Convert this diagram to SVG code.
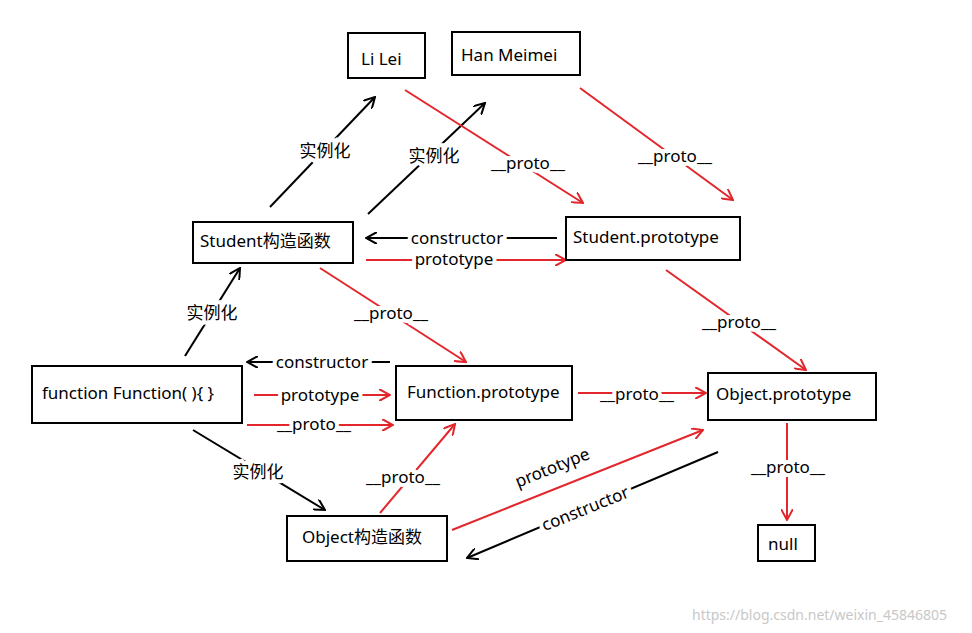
<svg xmlns="http://www.w3.org/2000/svg" width="972" height="633" viewBox="0 0 972 633">
<style>
.n{fill:#fff;stroke:#000;stroke-width:2}
text{font-family:"Noto Sans","Noto Sans CJK SC",sans-serif;font-size:17px;fill:#000}
.t{text-anchor:start}
.l{text-anchor:middle;dominant-baseline:central;paint-order:stroke;stroke:#fff;stroke-width:8px}
.r{stroke:#e3262b;stroke-width:2;fill:none;marker-end:url(#ar)}
.b{stroke:#000;stroke-width:2;fill:none;marker-end:url(#ab)}
</style>
<defs>
<marker id="ar" viewBox="0 0 12 12" refX="11" refY="6" markerWidth="12" markerHeight="12" markerUnits="userSpaceOnUse" orient="auto"><path d="M0,0 L11,6 L0,12" fill="none" stroke="#e3262b" stroke-width="2"/></marker>
<marker id="ab" viewBox="0 0 12 12" refX="11" refY="6" markerWidth="12" markerHeight="12" markerUnits="userSpaceOnUse" orient="auto"><path d="M0,0 L11,6 L0,12" fill="none" stroke="#000" stroke-width="2"/></marker>
</defs>
<rect width="972" height="633" fill="#fff"/>
<g id="connectors">
<path class="b" d="M270,207 L375,97"/><text class="l" x="325" y="150">实例化</text>
<path class="b" d="M368,214 L485,103"/><text class="l" x="434" y="155">实例化</text>
<path class="r" d="M405,90 L583,203"/><text class="l" x="528" y="162">__proto__</text>
<path class="r" d="M580,88 L733,200"/><text class="l" x="675" y="155">__proto__</text>
<path class="b" d="M557,238 L366,238"/><text class="l" x="457" y="237">constructor</text>
<path class="r" d="M366,260 L566,260"/><text class="l" x="454" y="258">prototype</text>
<path class="r" d="M320,268 L466,362"/><text class="l" x="391" y="312">__proto__</text>
<path class="r" d="M666,270 L806,370"/><text class="l" x="739" y="321">__proto__</text>
<path class="b" d="M185,356 L240,268"/><text class="l" x="212" y="312">实例化</text>
<path class="b" d="M390,362 L247,362"/><text class="l" x="322" y="361">constructor</text>
<path class="r" d="M254,395 L390,395"/><text class="l" x="320" y="394">prototype</text>
<path class="r" d="M247,425 L393,425"/><text class="l" x="314" y="423">__proto__</text>
<path class="r" d="M578,393 L706,393"/><text class="l" x="637" y="393">__proto__</text>
<path class="b" d="M193,430 L325,510"/><text class="l" x="258" y="471">实例化</text>
<path class="r" d="M380,513 L455,424"/><text class="l" x="403" y="476">__proto__</text>
<path class="r" d="M452,530 L703,430"/><text class="l" x="552" y="467" transform="rotate(-22 552 467)">prototype</text>
<path class="b" d="M718,452 L467,558"/><text class="l" x="585" y="508" transform="rotate(-22 585 508)">constructor</text>
<path class="r" d="M787,423 L787,520"/><text class="l" x="788" y="466">__proto__</text>
</g>
<g id="lilei"><rect class="n" x="348" y="33" width="77" height="45"/><text x="361" y="65">Li Lei</text></g>
<g id="hanmeimei"><rect class="n" x="452" y="32" width="128" height="43"/><text x="461" y="61">Han Meimei</text></g>
<g id="student"><rect class="n" x="193" y="222" width="160" height="41"/><text x="200" y="247">Student构造函数</text></g>
<g id="studentproto"><rect class="n" x="566" y="217" width="174" height="43"/><text x="573" y="243">Student.prototype</text></g>
<g id="function"><rect class="n" x="32" y="366" width="210" height="57"/><text x="42" y="399">function Function( ){ }</text></g>
<g id="functionproto"><rect class="n" x="396" y="366" width="176" height="54"/><text x="407" y="398">Function.prototype</text></g>
<g id="objectproto"><rect class="n" x="708" y="373" width="168" height="47"/><text x="716" y="400">Object.prototype</text></g>
<g id="object"><rect class="n" x="287" y="516" width="160" height="45"/><text x="302" y="543">Object构造函数</text></g>
<g id="null"><rect class="n" x="758" y="525" width="57" height="36"/><text x="768" y="550">null</text></g>
<text x="692" y="620" style="font-size:14px;fill:#c8c8c8">https://blog.csdn.net/weixin_45846805</text>
</svg>
